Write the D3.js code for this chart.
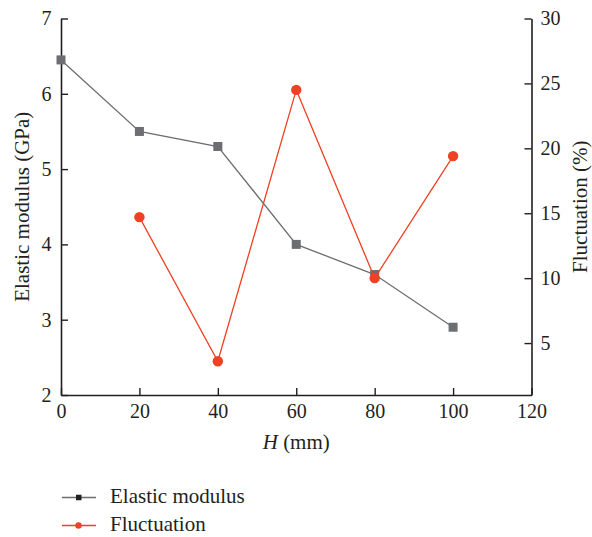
<!DOCTYPE html>
<html>
<head>
<meta charset="utf-8">
<script src="https://cdn.jsdelivr.net/npm/d3@7"></script>
<style>
  body { margin: 0; background: #fff; }
  svg text { font-family: "Liberation Serif", "DejaVu Serif", serif; fill: #231f20; }
</style>
</head>
<body>
<svg id="chart" width="592" height="537"></svg>
<script>
// Elastic modulus and its fluctuation versus depth H
const depths = [0, 20, 40, 60, 80, 100];
const modulus = [6.45, 5.5, 5.3, 4.0, 3.6, 2.9];
const fluctDepths = [20, 40, 60, 80, 100];
const fluctuation = [14.7, 3.6, 24.5, 10.0, 19.4];
const xTicks = [0, 20, 40, 60, 80, 100, 120];
const leftTicks = [2, 3, 4, 5, 6, 7];
const rightTicks = [5, 10, 15, 20, 25, 30];

const grey = "#6d6e71";
const red = "#ef4123";
const axisColor = "#231f20";
const serif = '"Liberation Serif", "DejaVu Serif", serif';

const svg = d3.select("#chart");
const plotLeft = 61, plotRight = 531.5, plotTop = 18.5, plotBottom = 395;

const x = d3.scaleLinear().domain([0, 120]).range([plotLeft, plotRight]);
const yL = d3.scaleLinear().domain([2, 7]).range([plotBottom, plotTop]);
const yR = d3.scaleLinear().domain([1, 30]).range([plotBottom, plotTop]);

function styleAxis(g) {
  g.attr("font-family", serif);
  g.select(".domain").attr("stroke", axisColor).attr("stroke-width", 1.6);
  g.selectAll(".tick line").attr("stroke", axisColor).attr("stroke-width", 1.4);
  g.selectAll(".tick text").attr("font-size", 20).attr("fill", axisColor);
}

svg.append("g").attr("transform", `translate(0,${plotBottom})`)
  .call(d3.axisBottom(x).tickValues(xTicks).tickFormat(d3.format("d"))
    .tickSizeInner(-7).tickSizeOuter(0).tickPadding(9))
  .call(styleAxis);

svg.append("g").attr("transform", `translate(${plotLeft},0)`)
  .call(d3.axisLeft(yL).tickValues(leftTicks).tickFormat(d3.format("d"))
    .tickSizeInner(-7).tickSizeOuter(0).tickPadding(9.5))
  .call(styleAxis);

svg.append("g").attr("transform", `translate(${plotRight},0)`)
  .call(d3.axisRight(yR).tickValues(rightTicks).tickFormat(d3.format("d"))
    .tickSizeInner(-7).tickSizeOuter(0).tickPadding(9))
  .call(styleAxis);

// Axis titles
const midY = (plotTop + plotBottom) / 2;
svg.append("text")
  .attr("transform", `translate(29,${midY}) rotate(-90)`)
  .attr("text-anchor", "middle").attr("font-size", 21)
  .text("Elastic modulus (GPa)");

svg.append("text")
  .attr("transform", `translate(587,${midY}) rotate(-90)`)
  .attr("text-anchor", "middle").attr("font-size", 21)
  .text("Fluctuation (%)");

const xt = svg.append("text")
  .attr("x", (plotLeft + plotRight) / 2).attr("y", 449)
  .attr("text-anchor", "middle").attr("font-size", 21);
xt.append("tspan").attr("font-style", "italic").text("H");
xt.append("tspan").text(" (mm)");

// Elastic modulus series
const modPts = depths.map((d, i) => [d, modulus[i]]);
svg.append("path")
  .attr("d", d3.line().x(d => x(d[0])).y(d => yL(d[1]))(modPts))
  .attr("fill", "none").attr("stroke", grey).attr("stroke-width", 1.3);
svg.selectAll(".sq").data(modPts).enter().append("rect")
  .attr("x", d => x(d[0]) - 4.5).attr("y", d => yL(d[1]) - 4.5)
  .attr("width", 9).attr("height", 9).attr("fill", grey);

// Fluctuation series
const flPts = fluctDepths.map((d, i) => [d, fluctuation[i]]);
svg.append("path")
  .attr("d", d3.line().x(d => x(d[0])).y(d => yR(d[1]))(flPts))
  .attr("fill", "none").attr("stroke", red).attr("stroke-width", 1.3);
svg.selectAll(".dot").data(flPts).enter().append("circle")
  .attr("cx", d => x(d[0])).attr("cy", d => yR(d[1]))
  .attr("r", 5.2).attr("fill", red);

// Legend
const legend = [
  { label: "Elastic modulus", line: grey, mark: "#231f20", shape: "square" },
  { label: "Fluctuation", line: red, mark: red, shape: "circle" }
];
const lg = svg.append("g");
legend.forEach((l, i) => {
  const yy = 497.5 + i * 28;
  lg.append("line").attr("x1", 62).attr("x2", 96).attr("y1", yy).attr("y2", yy)
    .attr("stroke", l.line).attr("stroke-width", 1.3);
  if (l.shape === "square") {
    lg.append("rect").attr("x", 76).attr("y", yy - 2.75).attr("width", 5.5).attr("height", 5.5).attr("fill", l.mark);
  } else {
    lg.append("circle").attr("cx", 78.5).attr("cy", yy).attr("r", 3.2).attr("fill", l.mark);
  }
  lg.append("text").attr("x", 110).attr("y", yy + 5.5).attr("font-size", 21).text(l.label);
});
</script>
</body>
</html>
